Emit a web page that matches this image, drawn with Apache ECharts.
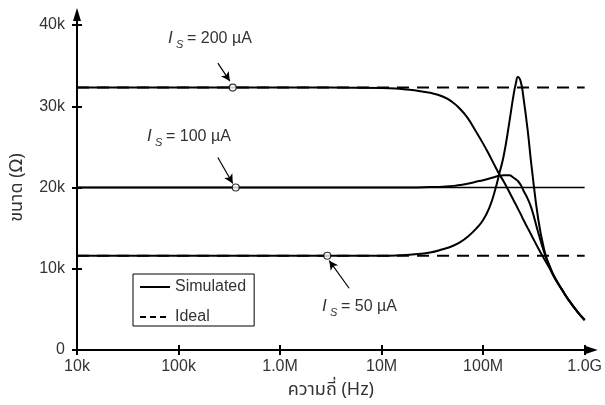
<!DOCTYPE html>
<html>
<head>
<meta charset="utf-8">
<script src="https://cdn.jsdelivr.net/npm/echarts@6/dist/echarts.min.js"></script>
<style>html,body{margin:0;padding:0;background:#fff}#c{width:605px;height:405px}</style>
</head>
<body>
<div id="c"></div>
<script>
// Frequencies (Hz)
const freqs = [1e4, 1e5, 1e6, 3e6, 1e7, 1.5e7, 2e7, 3e7, 4e7, 5e7, 6e7, 7e7, 8.5e7, 1e8, 1.15e8, 1.3e8, 1.45e8, 1.6e8, 1.8e8, 2e8, 2.1e8, 2.2e8, 2.35e8, 2.5e8, 2.75e8, 3e8, 3.5e8, 4e8, 4.5e8, 5e8, 6e8, 7e8, 8.5e8, 1e9];
// Simulated magnitude (kΩ)
const sim200 = [32.3, 32.3, 32.3, 32.3, 32.25, 32.15, 32.0, 31.65, 31.2, 30.5, 29.6, 28.6, 26.9, 25.4, 24.0, 22.7, 21.6, 20.7, 19.5, 18.4, 17.9, 17.4, 16.7, 16.0, 15.0, 14.1, 12.5, 11.2, 10.1, 9.0, 7.4, 6.1, 4.7, 3.7];
const sim100 = [20, 20, 20, 20, 20, 20, 20, 20.05, 20.1, 20.2, 20.3, 20.45, 20.7, 20.9, 21.1, 21.3, 21.45, 21.5, 21.5, 21.2, 21.0, 20.8, 20.3, 19.6, 18.6, 17.4, 14.4, 12.0, 10.4, 9.1, 7.4, 6.1, 4.7, 3.7];
const sim50 = [11.6, 11.6, 11.6, 11.6, 11.6, 11.65, 11.75, 12.0, 12.4, 12.8, 13.3, 13.9, 14.9, 16.0, 17.5, 19.5, 21.8, 24.0, 27.8, 31.5, 32.8, 33.6, 33.0, 31.0, 27.0, 22.6, 16.0, 12.3, 10.3, 9.0, 7.4, 6.1, 4.7, 3.7];
// Ideal levels (kΩ)
const ideal200 = 32.3;
const ideal100 = 20;
const ideal50 = 11.6;
const idealRange = [1e4, 1e9];
// Annotation markers [freq, kΩ]
const mark200 = [3.42e5, 32.3];
const mark100 = [3.66e5, 20];
const mark50 = [2.92e6, 11.6];
// Arrow start/end [freq, kΩ]
const arrow200 = [[2.44e5, 35.3], [3.2e5, 33.1]];
const arrow100 = [[2.44e5, 23.7], [3.42e5, 20.5]];
const arrow50 = [[4.79e6, 7.6], [3.05e6, 11.0]];
// Tick labels
const xTickVals = [1e4, 1e5, 1e6, 1e7, 1e8, 1e9];
const xTickLabels = ['10k', '100k', '1.0M', '10M', '100M', '1.0G'];
const yTickLabels = ['0', '10k', '20k', '30k', '40k'];

const FONT = 'Liberation Sans, Arial, Noto Sans, sans-serif';
const THAI = 'Noto Sans Thai, Loma, Garuda, Tlwg Typo, DejaVu Sans, Liberation Sans, sans-serif';
const TXT = '#333';

const zip = (xs, ys) => xs.map((x, i) => [x, ys[i]]);
const flat = v => idealRange.map(f => [f, v]);

const chart = echarts.init(document.getElementById('c'), null, {renderer: 'canvas'});

const xAxisBase = {
  type: 'log', logBase: 10, min: 1e4, max: 1e9,
  splitLine: {show: false}, minorTick: {show: false}
};
const yAxisBase = {
  type: 'value', min: 0, max: 40, interval: 10,
  splitLine: {show: false}
};

const simStyle = {color: '#000', width: 2};
const idealStyle = {color: '#000', width: 2, type: [12, 8]};

const arrowLine = (a) => [{coord: a[0], symbol: 'none'}, {coord: a[1], symbol: 'arrow'}];

const option = {
  backgroundColor: '#fff',
  animation: false,
  grid: {left: 77, right: 13, top: 25, bottom: 54, containLabel: false},
  legend: {
    data: [
      {name: 'Simulated', itemStyle: {opacity: 0}, lineStyle: {color: '#000', width: 2, type: 'solid'}},
      {name: 'Ideal', itemStyle: {opacity: 0}, lineStyle: {color: '#000', width: 2, type: [6, 4]}}
    ],
    orient: 'vertical', left: 133, top: 274,
    padding: [5, 8, 1, 6], itemGap: 14, itemWidth: 30, itemHeight: 14,
    borderColor: '#000', borderWidth: 1, backgroundColor: '#fff',
    textStyle: {fontFamily: FONT, fontSize: 16, color: TXT},
    selectedMode: false
  },
  xAxis: [
    Object.assign({}, xAxisBase, {
      position: 'bottom',
      axisLine: {show: true, lineStyle: {color: '#000', width: 2}},
      axisTick: {show: true, length: 5, lineStyle: {color: '#000', width: 2}},
      axisLabel: {
        margin: 9, fontFamily: FONT, fontSize: 16, color: TXT,
        formatter: v => { const i = xTickVals.findIndex(t => Math.abs(Math.log10(t) - Math.log10(v)) < 1e-6); return i >= 0 ? xTickLabels[i] : ''; }
      },
      name: 'ความถี่ (Hz)', nameLocation: 'middle', nameGap: 32,
      nameTextStyle: {fontFamily: THAI, fontSize: 18, color: TXT}
    }),
    Object.assign({}, xAxisBase, {
      position: 'bottom', gridIndex: 0,
      axisLine: {show: false},
      axisTick: {show: true, inside: true, length: 5, lineStyle: {color: '#000', width: 2}},
      axisLabel: {show: false}
    })
  ],
  yAxis: [
    Object.assign({}, yAxisBase, {
      position: 'left',
      axisLine: {show: true, lineStyle: {color: '#000', width: 2}},
      axisTick: {show: true, length: 5, lineStyle: {color: '#000', width: 2}},
      axisLabel: {
        margin: 12, fontFamily: FONT, fontSize: 16, color: TXT,
        formatter: v => yTickLabels[Math.round(v / 10)] || ''
      },
      name: 'ขนาด (Ω)', nameLocation: 'middle', nameGap: 50,
      nameTextStyle: {fontFamily: THAI, fontSize: 18, color: TXT}
    }),
    Object.assign({}, yAxisBase, {
      position: 'left', gridIndex: 0,
      axisLine: {show: false},
      axisTick: {show: true, inside: true, length: 5, lineStyle: {color: '#000', width: 2}},
      axisLabel: {show: false}
    })
  ],
  series: [
    {name: 'Ideal', type: 'line', data: flat(ideal200), showSymbol: false, symbol: 'none', itemStyle: {color: '#000'}, lineStyle: idealStyle, z: 2, silent: true},
    {name: 'Ideal', type: 'line', data: flat(ideal50), showSymbol: false, symbol: 'none', itemStyle: {color: '#000'}, lineStyle: idealStyle, z: 2, silent: true},
    {name: 'Ideal', type: 'line', data: flat(ideal100), showSymbol: false, symbol: 'none', itemStyle: {color: '#000'}, lineStyle: {color: '#000', width: 1.5}, z: 2, silent: true},
    {name: 'Simulated', type: 'line', data: zip(freqs, sim200), showSymbol: false, symbol: 'none', smooth: 0.5, itemStyle: {color: '#000'}, lineStyle: simStyle, z: 3, silent: true},
    {name: 'Simulated', type: 'line', data: zip(freqs, sim100), showSymbol: false, symbol: 'none', smooth: 0.5, itemStyle: {color: '#000'}, lineStyle: simStyle, z: 3, silent: true},
    {name: 'Simulated', type: 'line', data: zip(freqs, sim50), showSymbol: false, symbol: 'none', smooth: 0.5, itemStyle: {color: '#000'}, lineStyle: simStyle, z: 3, silent: true},
    {
      name: 'marks', type: 'scatter', data: [mark200, mark100, mark50],
      symbol: 'circle', symbolSize: 7,
      itemStyle: {color: '#fff', borderColor: '#000', borderWidth: 1.2},
      z: 5, silent: true,
      markLine: {
        silent: true, symbolSize: [7, 9], animation: false,
        label: {show: false},
        lineStyle: {color: '#000', width: 1.2, type: 'solid'},
        data: [arrowLine(arrow200), arrowLine(arrow100), arrowLine(arrow50)]
      }
    }
  ]
};
chart.setOption(option);

// Axis arrow extensions and annotation labels
const o = chart.convertToPixel({xAxisIndex: 0, yAxisIndex: 0}, [1e4, 0]);
const tr = chart.convertToPixel({xAxisIndex: 0, yAxisIndex: 0}, [1e9, 40]);
const label = (x, y, num) => [
  {type: 'text', left: x, top: y - 10, style: {text: 'I', font: 'italic 17px ' + FONT, fill: TXT}},
  {type: 'text', left: x + 8, top: y - 1, style: {text: 'S', font: 'italic 11px ' + FONT, fill: TXT}},
  {type: 'text', left: x + 19, top: y - 9, style: {text: '= ' + num + ' µA', font: '16px ' + FONT, fill: TXT}}
];
chart.setOption({
  graphic: [
    {type: 'line', shape: {x1: o[0], y1: tr[1], x2: o[0], y2: tr[1] - 12}, style: {stroke: '#000', lineWidth: 2}},
    {type: 'polygon', shape: {points: [[o[0], tr[1] - 17], [o[0] - 4, tr[1] - 4], [o[0] + 4, tr[1] - 4]]}, style: {fill: '#000'}},
    {type: 'line', shape: {x1: tr[0], y1: o[1], x2: tr[0] + 6, y2: o[1]}, style: {stroke: '#000', lineWidth: 2}},
    {type: 'polygon', shape: {points: [[tr[0] + 13, o[1]], [tr[0] + 1, o[1] - 4], [tr[0] + 1, o[1] + 4]]}, style: {fill: '#000'}}
  ].concat(label(168, 40, '200'), label(147, 138, '100'), label(322, 308, '50'))
});
</script>
</body>
</html>
